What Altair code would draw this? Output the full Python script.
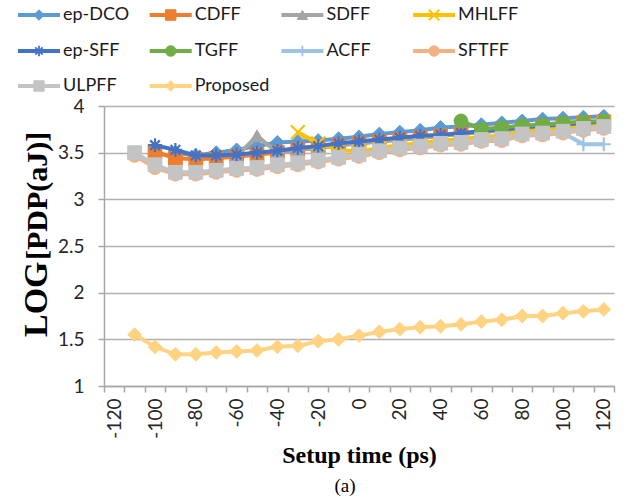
import altair as alt
import pandas as pd

# ---------------- data ----------------
x_vals = [-110, -100, -90, -80, -70, -60, -50, -40, -30, -20, -10, 0,
          10, 20, 30, 40, 50, 60, 70, 80, 90, 100, 110, 120]
x_domain = [-120, -110, -100, -90, -80, -70, -60, -50, -40, -30, -20, -10, 0,
            10, 20, 30, 40, 50, 60, 70, 80, 90, 100, 110, 120]

series_names = ["ep-DCO", "CDFF", "SDFF", "MHLFF", "ep-SFF",
                "TGFF", "ACFF", "SFTFF", "ULPFF", "Proposed"]

N = None
ep_dco = [N, N, 3.50, 3.47, 3.50, 3.53, 3.57, 3.61, 3.62, 3.63, 3.65, 3.67,
          3.70, 3.72, 3.74, 3.77, 3.78, 3.80, 3.82, 3.84, 3.86, 3.87, 3.88, 3.89]
cdff = [N, 3.51, 3.44, 3.43, 3.44, 3.46, 3.48, 3.50, 3.53, 3.55, 3.58, 3.60,
        3.62, 3.64, 3.66, 3.68, 3.70, 3.72, 3.74, 3.76, 3.78, 3.80, 3.82, 3.83]
sdff = [N, N, N, N, N, 3.46, 3.68, 3.50, 3.53, 3.55, 3.58, 3.60,
        3.62, 3.64, 3.66, 3.68, 3.70, 3.72, 3.74, 3.76, 3.78, 3.80, 3.82, 3.83]
mhlff = [N, N, N, N, N, N, N, N, 3.72, 3.60, 3.53, 3.51,
         3.55, 3.58, 3.60, 3.63, 3.64, 3.67, 3.68, 3.73, 3.74, 3.76, 3.79, 3.81]
ep_sff = [N, 3.58, 3.53, 3.47, 3.47, 3.48, 3.50, 3.52, 3.55, 3.57, 3.60, 3.62,
          3.64, 3.66, 3.68, 3.69, 3.71, 3.73, 3.75, 3.77, 3.79, 3.80, 3.82, 3.83]
tgff = [N, N, N, N, N, N, N, N, N, N, N, N,
        N, N, N, N, 3.84, 3.75, 3.77, 3.79, 3.80, 3.82, 3.83, 3.84]
acff = [N, N, N, N, N, N, N, N, N, N, N, N,
        N, N, N, N, N, N, N, N, N, 3.71, 3.59, 3.59]
sftff = [3.47, 3.34, 3.27, 3.27, 3.29, 3.31, 3.32, 3.35, 3.37, 3.40, 3.43, 3.46,
         3.50, 3.53, 3.55, 3.58, 3.59, 3.62, 3.63, 3.68, 3.69, 3.71, 3.74, 3.76]
ulpff = [3.50, 3.37, 3.29, 3.29, 3.31, 3.33, 3.34, 3.37, 3.39, 3.42, 3.45, 3.48,
         3.52, 3.55, 3.57, 3.60, 3.61, 3.64, 3.65, 3.70, 3.71, 3.73, 3.76, 3.78]
proposed = [1.55, 1.42, 1.34, 1.34, 1.36, 1.37, 1.38, 1.42, 1.43, 1.48, 1.50, 1.54,
            1.58, 1.61, 1.63, 1.64, 1.66, 1.69, 1.71, 1.75, 1.75, 1.78, 1.80, 1.82]

y_ticks = [1, 1.5, 2, 2.5, 3, 3.5, 4]

# ---------------- styles ----------------
colors = ["#5B9BD5", "#ED7D31", "#A5A5A5", "#FFC000", "#4472C4",
          "#70AD47", "#9DC3E6", "#F4B183", "#C4C4C4", "#FFD382"]
asterisk = "M-1,0L1,0M0,-1L0,1M-0.7,-0.7L0.7,0.7M-0.7,0.7L0.7,-0.7"
xshape = "M-1,-1L1,1M-1,1L1,-1"
plus = "M-1,0L1,0M0,-1L0,1"
shapes = ["diamond", "square", "triangle-up", xshape, asterisk,
          "circle", plus, "circle", "square", "diamond"]
sizes = [190, 190, 220, 190, 200, 190, 200, 320, 330, 170]
stroke_w = [1, 1, 1, 2.2, 2.2, 1, 2.2, 1, 1, 1]
leg_sw = [1, 1, 1, 1.8, 1.8, 1, 1.8, 1, 1, 1]

all_vals = [ep_dco, cdff, sdff, mhlff, ep_sff, tgff, acff, sftff, ulpff, proposed]

rows = []
for name, vals in zip(series_names, all_vals):
    for xv, yv in zip(x_vals, vals):
        if yv is not None:
            rows.append({"series": name, "x": xv, "y": yv})
df = pd.DataFrame(rows)

color_scale = alt.Scale(domain=series_names, range=colors)
shape_scale = alt.Scale(domain=series_names, range=shapes)
size_scale = alt.Scale(domain=series_names, range=sizes)

axis_gray = "#A6A6A6"
x_enc = alt.X(
    "x:O",
    scale=alt.Scale(type="band", domain=x_domain, paddingInner=0, paddingOuter=0),
    bandPosition=0.5,
    axis=alt.Axis(
        title="Setup time (ps)",
        titleFont="Liberation Serif", titleFontWeight="bold", titleFontSize=24,
        titleColor="#000000", titlePadding=5,
        labelExpr="datum.value % 20 === 0 ? datum.label : ''",
        labelAngle=270, labelFont="Lato", labelFontSize=19, labelColor="#262626",
        labelPadding=6, labelOverlap=False,
        tickBand="extent", tickSize=6, tickColor=axis_gray, tickWidth=1.5,
        domainColor=axis_gray, domainWidth=1.5, grid=False,
    ),
)
y_enc = alt.Y(
    "y:Q",
    scale=alt.Scale(domain=[1, 4], nice=False, zero=False),
    axis=alt.Axis(
        title=None, values=y_ticks, format="~g",
        labelFont="Lato", labelFontSize=19, labelColor="#262626", labelPadding=14,
        tickSize=6, tickColor=axis_gray, tickWidth=1.5,
        domainColor=axis_gray, domainWidth=1.5,
        grid=True, gridColor="#B0B0B0", gridWidth=1.5,
    ),
)

base = alt.Chart(df)
layers = []
for i, name in enumerate(series_names):
    sub = base.transform_filter(alt.datum.series == name)
    layers.append(
        sub.mark_line(strokeWidth=4).encode(
            x=x_enc, y=y_enc,
            color=alt.Color("series:N", scale=color_scale, legend=None),
        )
    )
    layers.append(
        sub.mark_point(opacity=1, strokeWidth=stroke_w[i]).encode(
            x=x_enc, y=y_enc,
            shape=alt.Shape("series:N", scale=shape_scale, legend=None),
            size=alt.Size("series:N", scale=size_scale, legend=None),
            fill=alt.Fill("series:N", scale=color_scale, legend=None),
            stroke=alt.Stroke("series:N", scale=color_scale, legend=None),
        )
    )

# ---------------- legend (drawn in pixel space) ----------------
row_y = [15, 51, 86]
leg_rows = []
for i, name in enumerate(series_names):
    col, r = i % 4, i // 4
    x0 = 18 + col * 131.7 - 104
    y0 = row_y[r] - 106
    leg_rows.append({"series": name, "lx0": x0, "lx1": x0 + 42, "lxm": x0 + 21,
                     "ltx": x0 + 45, "ly": y0, "sw": leg_sw[i]})
leg_df = pd.DataFrame(leg_rows)
leg = alt.Chart(leg_df)
leg_line = leg.mark_rule(strokeWidth=4).encode(
    x=alt.X("lx0:Q", scale=None), x2="lx1:Q", y=alt.Y("ly:Q", scale=None),
    color=alt.Color("series:N", scale=color_scale, legend=None),
)
leg_pt = leg.mark_point(opacity=1, size=110).encode(
    x=alt.X("lxm:Q", scale=None), y=alt.Y("ly:Q", scale=None),
    shape=alt.Shape("series:N", scale=shape_scale, legend=None),
    fill=alt.Fill("series:N", scale=color_scale, legend=None),
    stroke=alt.Stroke("series:N", scale=color_scale, legend=None),
    strokeWidth=alt.StrokeWidth("sw:Q", scale=None),
)
leg_txt = leg.mark_text(align="left", baseline="middle", font="Lato",
                        fontSize=18, color="#1a1a1a").encode(
    x=alt.X("ltx:Q", scale=None), y=alt.Y("ly:Q", scale=None), text="series:N",
)

# ---------------- y title and caption ----------------
t1 = alt.Chart(pd.DataFrame({"t": ["LOG"]})).mark_text(
    angle=270, align="left", baseline="alphabetic", font="Liberation Serif",
    fontWeight="bold", fontSize=34, color="#000000",
).encode(x=alt.value(-57), y=alt.value(231), text="t:N")
t2 = alt.Chart(pd.DataFrame({"t": ["[PDP(aJ)]"]})).mark_text(
    angle=270, align="left", baseline="alphabetic", font="Liberation Serif",
    fontWeight="bold", fontSize=30, color="#000000",
).encode(x=alt.value(-57), y=alt.value(154), text="t:N")
cap = alt.Chart(pd.DataFrame({"t": ["(a)"]})).mark_text(
    align="center", baseline="middle", font="Liberation Serif",
    fontSize=19, color="#000000",
).encode(x=alt.value(241), y=alt.value(380), text="t:N")

chart = alt.layer(*layers, leg_line, leg_pt, leg_txt, t1, t2, cap).properties(
    width=510, height=280, autosize="none",
    padding={"left": 104, "top": 106, "right": 14, "bottom": 114},
    background="white",
).configure_view(stroke=None)

chart.save("out.html", embed_options={"renderer": "svg", "actions": False})
